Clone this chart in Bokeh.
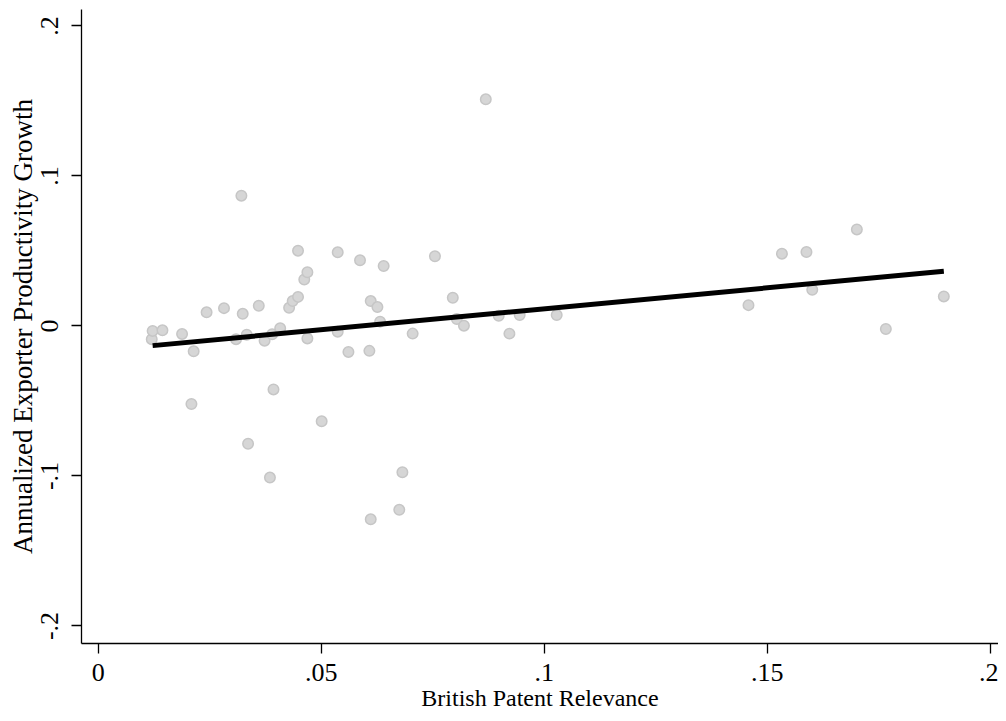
from bokeh.plotting import figure
from bokeh.models import Range1d, FixedTicker
from bokeh.embed import file_html
from bokeh.resources import INLINE

# Data
relevance = [0.0120, 0.0122, 0.0144, 0.0188, 0.0214, 0.0209, 0.0243, 0.0282,
             0.0309, 0.0321, 0.0324, 0.0333, 0.0336, 0.0360, 0.0373, 0.0385,
             0.0390, 0.0393, 0.0408, 0.0428, 0.0436, 0.0448, 0.0448, 0.0462,
             0.0469, 0.0469, 0.0501, 0.0537, 0.0537, 0.0561, 0.0587, 0.0608,
             0.0611, 0.0611, 0.0626, 0.0632, 0.0640, 0.0675, 0.0682, 0.0705,
             0.0755, 0.0795, 0.0804, 0.0820, 0.0869, 0.0898, 0.0922, 0.0945,
             0.1028, 0.1458, 0.1533, 0.1588, 0.1601, 0.1701, 0.1766, 0.1896]
growth = [-0.0088, -0.0033, -0.0029, -0.0053, -0.0169, -0.0520, 0.0091, 0.0119,
          -0.0088, 0.0869, 0.0081, -0.0058, -0.0785, 0.0135, -0.0098, -0.1011,
          -0.0055, -0.0423, -0.0015, 0.0121, 0.0166, 0.0194, 0.0502, 0.0310,
          0.0358, -0.0083, -0.0636, 0.0491, -0.0038, -0.0173, 0.0438, -0.0166,
          0.0166, -0.1289, 0.0126, 0.0029, 0.0400, -0.1226, -0.0975, -0.0051,
          0.0465, 0.0188, 0.0046, 0.0002, 0.1511, 0.0068, -0.0051, 0.0073,
          0.0073, 0.0139, 0.0482, 0.0493, 0.0241, 0.0644, -0.0020, 0.0197]
fit_x = [0.0122, 0.1896]
fit_y = [-0.0131, 0.0365]

x_ticks = [0, 0.05, 0.1, 0.15, 0.2]
x_tick_labels = ["0", ".05", ".1", ".15", ".2"]
y_ticks = [-0.2, -0.1, 0, 0.1, 0.2]
y_tick_labels = ["-.2", "-.1", "0", ".1", ".2"]

FONT = "Liberation Serif"

p = figure(width=998, height=713, output_backend="svg", toolbar_location=None,
           x_range=Range1d(-0.00375, 0.20186), y_range=Range1d(-0.2117, 0.2110),
           min_border_left=81, min_border_right=0, min_border_top=9, min_border_bottom=67)
p.outline_line_color = None
p.grid.visible = False
p.background_fill_color = "white"
p.border_fill_color = "white"

p.scatter(relevance, growth, size=10.5, marker="circle",
          fill_color="#d6d6d6", line_color="#c6c6c6", line_width=1.5)
p.line(fit_x, fit_y, line_color="black", line_width=5)

for ax, ticks, labels in ((p.xaxis[0], x_ticks, x_tick_labels), (p.yaxis[0], y_ticks, y_tick_labels)):
    ax.ticker = FixedTicker(ticks=ticks)
    ax.major_label_overrides = {t: l for t, l in zip(ticks, labels)}
    ax.minor_tick_line_color = None
    ax.major_tick_out = 10
    ax.major_tick_in = 0
    ax.major_tick_line_color = "black"
    ax.major_tick_line_width = 1.3
    ax.axis_line_color = "black"
    ax.axis_line_width = 1.3
    ax.major_label_text_font = FONT
    ax.major_label_text_font_size = "26px"
    ax.major_label_text_color = "black"
    ax.axis_label_text_font = FONT
    ax.axis_label_text_font_style = "normal"
    ax.axis_label_text_color = "black"

p.xaxis.axis_label = "British Patent Relevance"
p.xaxis.axis_label_text_font_size = "24px"
p.yaxis.axis_label = "Annualized Exporter Productivity Growth"
p.yaxis.axis_label_text_font_size = "27px"
p.xaxis.major_label_standoff = 10
p.xaxis.axis_label_standoff = 1
p.yaxis.major_label_orientation = "parallel"
p.yaxis.major_label_standoff = 13
p.yaxis.axis_label_standoff = 1

open("out.html", "w").write(file_html(p, INLINE))
